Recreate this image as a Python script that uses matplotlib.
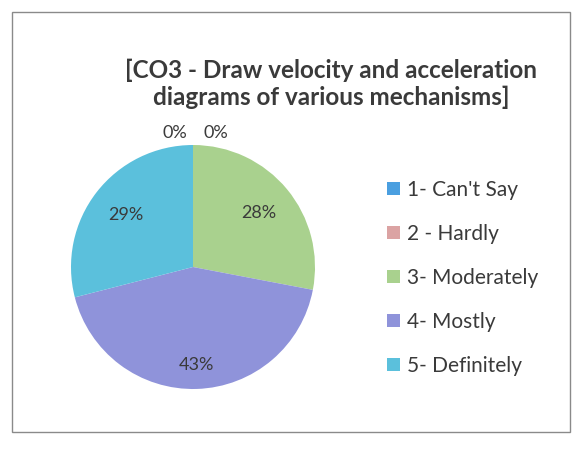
import numpy as np
import matplotlib.pyplot as plt
from matplotlib.patches import Rectangle, Patch

categories = ["1- Can't Say", "2 - Hardly", "3- Moderately", "4- Mostly", "5- Definitely"]
percent = [0, 0, 28, 43, 29]
colors = ["#4a9fe0", "#dba3a3", "#a9d18e", "#8f93da", "#5bc0dc"]
title = "[CO3 - Draw velocity and acceleration\ndiagrams of various mechanisms]"

plt.rcParams['font.family'] = ['Lato', 'DejaVu Sans']
txt = "#3a3a3a"

fig = plt.figure(figsize=(5.78, 4.5), dpi=100)
fig.patch.set_facecolor("white")

# scanned chart border
fig.patches.append(Rectangle((12 / 578, 18 / 450), 558 / 578, 420 / 450,
                             transform=fig.transFigure, fill=False,
                             edgecolor="#8a8a8a", linewidth=1.0))

fig.text(331 / 578, 1 - 84 / 450, title, ha="center", va="center",
         fontsize=17.5, fontweight="bold", color=txt, linespacing=1.22)

ax = fig.add_axes([71 / 578, (450 - 267 - 122) / 450, 244 / 578, 244 / 450])
wedges, _ = ax.pie(percent, colors=colors, startangle=90, counterclock=False,
                   radius=1.0, wedgeprops=dict(linewidth=0))
ax.set_xlim(-1, 1)
ax.set_ylim(-1, 1)
ax.axis("off")

zero_x = [-0.15, 0.19]
zero_i = 0
for w, p in zip(wedges, percent):
    ang = np.deg2rad((w.theta1 + w.theta2) / 2)
    if p == 0:
        ax.text(zero_x[zero_i], 1.1, f"{p}%", ha="center", va="center",
                fontsize=13, color=txt, clip_on=False)
        zero_i += 1
    else:
        d = 0.7 if p < 40 else 0.8
        ax.text(d * np.cos(ang), d * np.sin(ang), f"{p}%", ha="center",
                va="center", fontsize=13, color=txt)

handles = [Patch(facecolor=c, edgecolor="none") for c in colors]
leg = fig.legend(handles, categories, loc="upper left",
                 bbox_to_anchor=(368 / 578, 1 - 161 / 450),
                 frameon=False, fontsize=15, labelspacing=1.15,
                 handlelength=0.65, handleheight=0.6, handletextpad=0.3)
for t in leg.get_texts():
    t.set_color(txt)

fig.savefig("out.png", dpi=100)
